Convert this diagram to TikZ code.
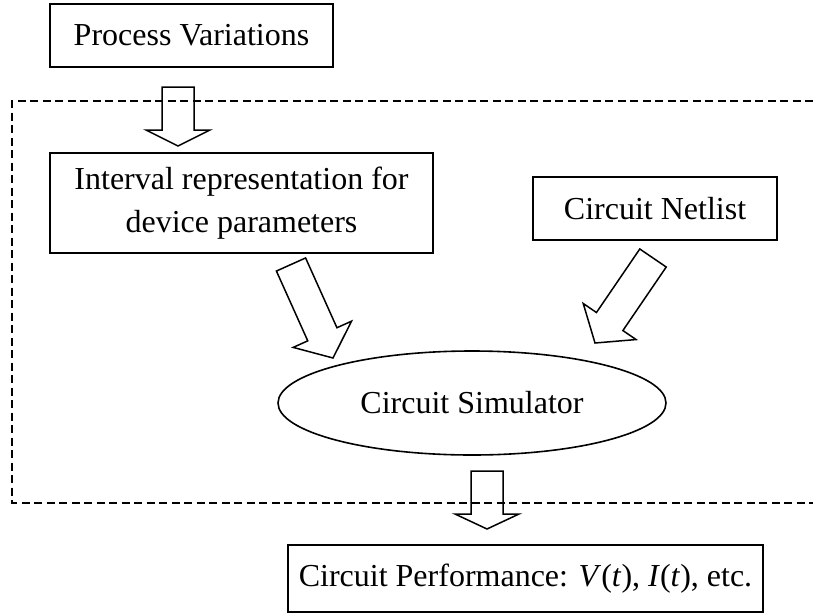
\documentclass[tikz,border=0pt]{standalone}
\usepackage{fontspec}
\setmainfont{Liberation Serif}
\usetikzlibrary{calc,shapes.geometric}
\tikzset{
  box/.style={draw, line width=1.5pt, inner sep=0pt, align=center,
    font=\fontsize{32}{43}\selectfont},
  simell/.style={ellipse, draw, line width=1.6pt, inner sep=0pt,
    font=\fontsize{32}{43}\selectfont},
  dashframe/.style={line width=1.5pt, dash pattern=on 8pt off 4.5pt},
  blockarrow/.style={draw, line width=1.5pt, line join=miter},
}
% #1 tail coordinate, #2 tip coordinate, #3 head length
\newcommand{\blockarr}[3]{%
  \coordinate (hb) at ($(#2)!#3!(#1)$);
  \draw[blockarrow]
    ($(#1)!16pt!90:(#2)$) -- ($(hb)!16pt!90:(#2)$) -- ($(hb)!32pt!90:(#2)$)
    -- (#2) -- ($(hb)!32pt!-90:(#2)$) -- ($(hb)!16pt!-90:(#2)$)
    -- ($(#1)!16pt!-90:(#2)$) -- cycle;
}
\begin{document}
\begin{tikzpicture}[x=1pt,y=-1pt]
\useasboundingbox (0,0) rectangle (813,613);
% dashed frame (open to the right)
\coordinate (fa) at (813,101);
\coordinate (fb) at (12,101);
\coordinate (fc) at (12,503);
\coordinate (fd) at (813,503);
\draw[dashframe] (fa) -- (fb) -- (fc) -- (fd);
% nodes
\node[box, minimum width=283pt, minimum height=63pt] (pv) at (191.5,35.5) {Process Variations};
\node[box, minimum width=383pt, minimum height=100pt] (ir) at (241.5,203) {Interval representation for\\device parameters};
\node[box, minimum width=244pt, minimum height=63pt] (nl) at (655,208.5) {Circuit Netlist};
\node[simell, minimum width=388pt, minimum height=104pt] (cs) at (472,403) {Circuit Simulator};
\node[box, minimum width=475pt, minimum height=67pt] (cp) at (525.5,578.5) {Circuit Performance: \textit{V}(\textit{t}), \textit{I}(\textit{t}), etc.};
% arrow end points
\coordinate (a1s) at (178,87);
\coordinate (a1e) at (178,146);
\coordinate (a2s) at (291,264.5);
\coordinate (a2e) at (333,358);
\coordinate (a3s) at (653,258);
\coordinate (a3e) at (595,343);
\coordinate (a4s) at (487,471);
\coordinate (a4e) at (487,529);
\blockarr{a1s}{a1e}{16pt}
\blockarr{a2s}{a2e}{26pt}
\blockarr{a3s}{a3e}{26pt}
\blockarr{a4s}{a4e}{15pt}
\end{tikzpicture}
\end{document}
